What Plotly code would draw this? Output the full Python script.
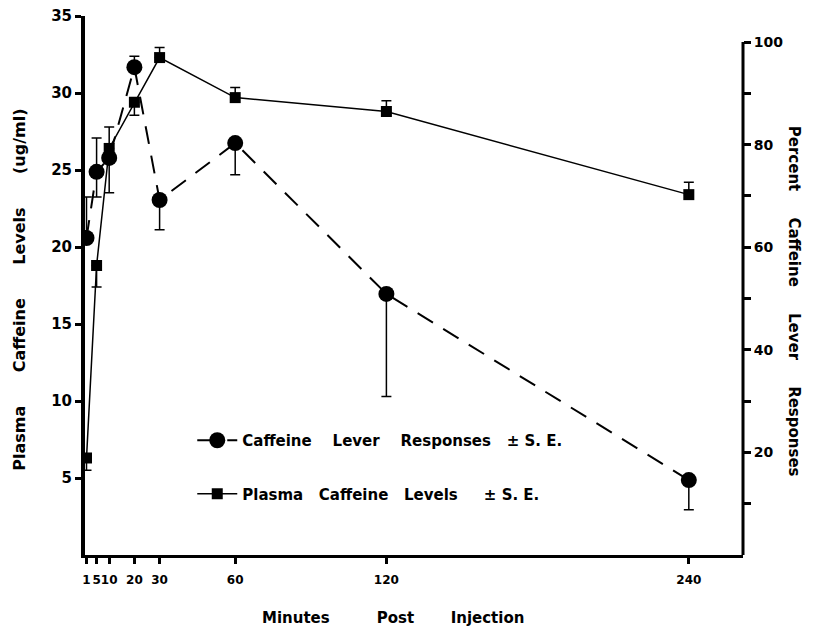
import plotly.graph_objects as go

minutes = [1, 5, 10, 20, 30, 60, 120, 240]
tick_labels = ["1", "5", "10", "20", "30", "60", "120", "240"]

# Caffeine lever responses (%), right axis
lever_pct = [61.8, 74.7, 77.4, 95.1, 69.2, 80.3, 50.9, 14.6]
lever_se_plus = [8.0, 6.6, 0, 2.1, 0, 0, 0, 0]
lever_se_minus = [0, 4.9, 6.8, 0, 5.8, 6.2, 20.0, 5.8]

# Plasma caffeine levels (ug/ml), left axis
plasma = [6.3, 18.8, 26.4, 29.4, 32.3, 29.7, 28.8, 23.4]
plasma_se_plus = [0, 0, 1.4, 0, 0.65, 0.65, 0.7, 0.8]
plasma_se_minus = [0.8, 1.4, 0, 0.85, 0, 0, 0, 0]

left_ticks = [5, 10, 15, 20, 25, 30, 35]
right_ticks = [10, 20, 30, 40, 50, 60, 70, 80, 90, 100]
right_labels = ["", "20", "", "40", "", "60", "", "80", "", "100"]

NB = "\u00a0"
FONT = "DejaVu Sans"

fig = go.Figure()

fig.add_trace(go.Scatter(
    x=minutes, y=lever_pct, yaxis="y2", mode="lines+markers",
    name=f"Caffeine{NB*4}Lever{NB*4}Responses{NB*3}±{NB}S.{NB}E.",
    legendgroup="a",
    line=dict(color="black", width=2, dash="18px,12px"),
    marker=dict(symbol="circle", size=16, color="black"),
    error_y=dict(type="data", symmetric=False, array=lever_se_plus,
                 arrayminus=lever_se_minus, color="black", thickness=1.5, width=5),
))

fig.add_trace(go.Scatter(
    x=minutes, y=plasma, yaxis="y", mode="lines+markers",
    name=f"Plasma{NB*3}Caffeine{NB*3}Levels{NB*5}±{NB}S.{NB}E.",
    legendgroup="b",
    line=dict(color="black", width=1.5),
    marker=dict(symbol="square", size=11, color="black"),
    error_y=dict(type="data", symmetric=False, array=plasma_se_plus,
                 arrayminus=plasma_se_minus, color="black", thickness=1.5, width=5),
))

tick_font = dict(family=FONT, size=14, color="black", weight="bold")

fig.update_layout(
    width=805, height=620,
    margin=dict(l=77, r=70, t=8, b=73, autoexpand=False),
    paper_bgcolor="white", plot_bgcolor="white",
    font=dict(family=FONT, color="black", size=13),
    xaxis=dict(
        range=[0.4, 261.5], tickvals=minutes, ticktext=tick_labels,
        tickangle=0, automargin=False, ticklabeloverflow="allow",
        showline=True, linecolor="black", linewidth=3,
        ticks="outside", ticklen=6, tickwidth=3, tickcolor="black",
        ticklabelstandoff=6,
        showgrid=False, zeroline=False,
        tickfont=dict(family=FONT, size=12, color="black", weight="bold"),
    ),
    yaxis=dict(
        range=[0, 35], tickvals=left_ticks, automargin=False,
        ticklabeloverflow="allow",
        showline=True, linecolor="black", linewidth=4,
        ticks="outside", ticklen=6, tickwidth=3, tickcolor="black",
        showgrid=False, zeroline=False,
        tickfont=dict(family=FONT, size=15, color="black", weight="bold"),
    ),
    yaxis2=dict(
        range=[0, 105.07], overlaying="y", side="right", automargin=False,
        ticklabeloverflow="allow",
        tickvals=right_ticks, ticktext=right_labels,
        showline=False,
        ticks="outside", ticklen=7, tickwidth=3, tickcolor="black",
        showgrid=False, zeroline=False,
        tickfont=tick_font,
    ),
    legend=dict(
        x=0.163, y=0.243, xanchor="left", yanchor="top",
        bgcolor="rgba(0,0,0,0)", traceorder="grouped", tracegroupgap=31,
        font=dict(family=FONT, size=15, color="black", weight="bold"),
        itemwidth=40,
    ),
    showlegend=True,
)

fig.add_shape(type="line", xref="paper", x0=1, x1=1, yref="y2", y0=0, y1=100,
              line=dict(color="black", width=3))

title_font = dict(family=FONT, size=16, color="black", weight="bold")
fig.add_annotation(
    text=f"Plasma{NB*6}Caffeine{NB*6}Levels{NB*6}(ug/ml)",
    xref="paper", yref="paper", x=-0.099, y=0.492, textangle=-90,
    showarrow=False, xanchor="center", yanchor="middle",
    font=title_font,
)
fig.add_annotation(
    text=f"Percent{NB*5}Caffeine{NB*5}Lever{NB*5}Responses",
    xref="paper", yref="paper", x=1.078, y=0.471, textangle=90,
    showarrow=False, xanchor="center", yanchor="middle",
    font=dict(family=FONT, size=15, color="black", weight="bold"),
)
fig.add_annotation(
    text=f"Minutes{NB*9}Post{NB*7}Injection",
    xref="paper", yref="paper", x=0.468, y=-0.117,
    showarrow=False, xanchor="center", yanchor="middle",
    font=dict(family=FONT, size=15, color="black", weight="bold"),
)

fig.write_html("out.html")
